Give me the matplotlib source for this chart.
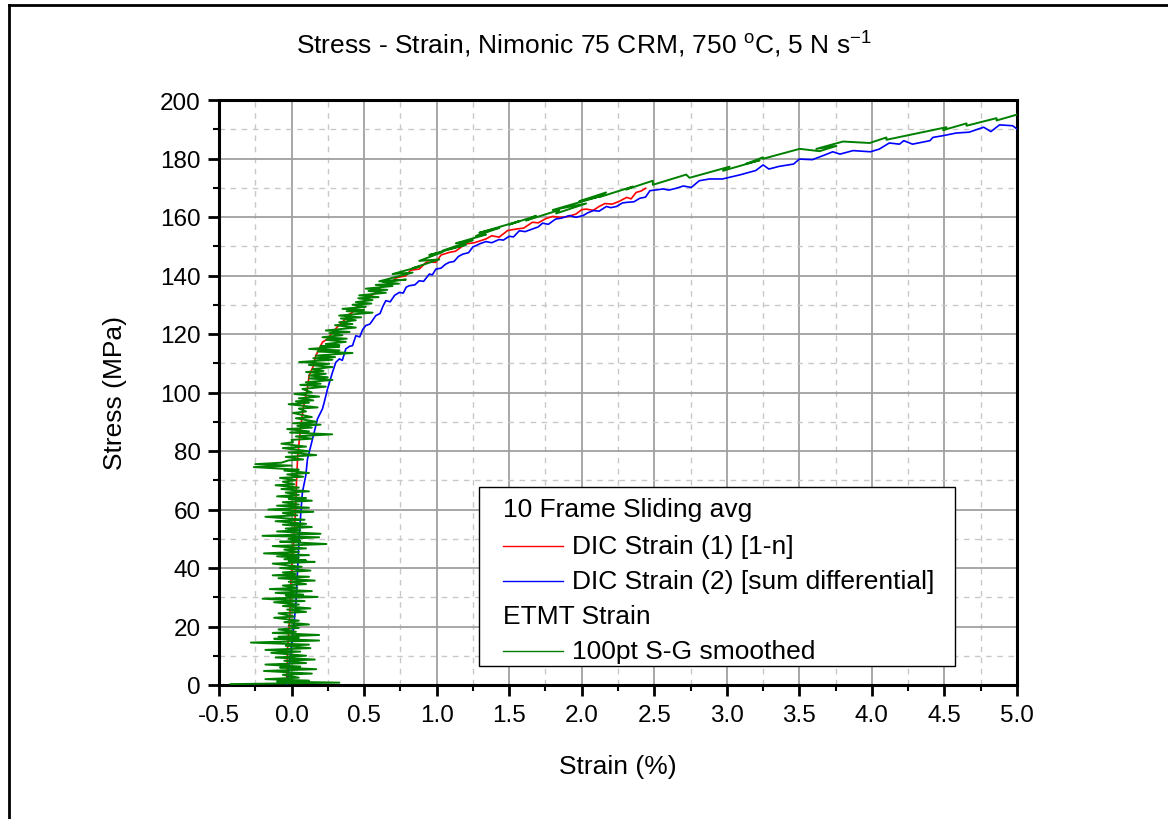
import numpy as np
import matplotlib
matplotlib.use('Agg')
import matplotlib.pyplot as plt
from matplotlib.ticker import MultipleLocator, FormatStrFormatter
from matplotlib.lines import Line2D
from matplotlib.patches import Rectangle

plt.rcParams['font.family'] = ['Liberation Sans', 'DejaVu Sans']
plt.rcParams['mathtext.fontset'] = 'custom'
plt.rcParams['mathtext.rm'] = 'Liberation Sans'
plt.rcParams['mathtext.it'] = 'Liberation Sans:italic'

''' Data read off the chart (strain %, stress MPa) '''
dic1_points = [(-0.035, 0.9), (-0.03, 6), (-0.028, 12.3), (-0.02, 18), (-0.012, 23.7),
               (-0.008, 29), (-0.005, 35.1), (0.004, 41), (0.011, 46.5), (0.018, 52),
               (0.025, 57.9), (0.03, 63), (0.034, 69.3), (0.038, 73), (0.041, 77.3),
               (0.052, 83.0), (0.064, 88.7), (0.08, 94.4), (0.098, 98.9), (0.11, 101.5),
               (0.121, 105.8), (0.15, 109), (0.167, 112.6), (0.213, 117.2), (0.25, 118.4),
               (0.282, 120.6), (0.33, 123.2), (0.351, 124), (0.39, 126.5), (0.42, 127.4),
               (0.46, 130), (0.489, 130.8), (0.53, 132.5), (0.581, 134.2), (0.62, 136.3),
               (0.673, 137.1), (0.72, 139.2), (0.788, 139.9), (0.82, 141.8), (0.88, 142.2),
               (0.93, 144.6), (0.995, 144.5), (1.03, 147), (1.087, 147.9), (1.13, 148.3),
               (1.20, 150.8), (1.26, 151.2), (1.34, 152.5), (1.38, 153.6), (1.43, 153.1),
               (1.49, 155.4), (1.55, 155.9), (1.60, 156.2), (1.66, 158.2), (1.70, 158.0),
               (1.755, 159.5), (1.80, 160.2), (1.85, 159.9), (1.90, 160.1), (1.96, 161),
               (2.00, 162.5), (2.03, 162.7), (2.08, 162.3), (2.12, 163.6), (2.16, 164.6),
               (2.21, 164.4), (2.26, 165.4), (2.31, 166.7), (2.34, 166.2), (2.375, 168.4),
               (2.41, 168.9), (2.44, 169.8)]

dic2_points = [(-0.028, 0.35), (-0.017, 6.6), (0.006, 15.7), (0.029, 27.1), (0.041, 38.5),
               (0.052, 49.9), (0.064, 59.0), (0.075, 65.9), (0.098, 71.6), (0.11, 77.3),
               (0.133, 81.8), (0.156, 86.4), (0.179, 91.0), (0.213, 94.4), (0.225, 96.6),
               (0.248, 101.2), (0.282, 106.9), (0.305, 110.3), (0.33, 111.5), (0.35, 111.0),
               (0.374, 114.9), (0.40, 115.8), (0.42, 116.0), (0.443, 119.4), (0.47, 119.0),
               (0.49, 121.5), (0.512, 122.9), (0.54, 123.4), (0.56, 124.8), (0.581, 126.3),
               (0.61, 127.0), (0.63, 129.5), (0.65, 131.4), (0.68, 131.0), (0.71, 133.2),
               (0.742, 134.2), (0.77, 134.0), (0.79, 136.0), (0.81, 136.5), (0.85, 136.8),
               (0.88, 138.2), (0.91, 138.0), (0.95, 140.5), (0.97, 140.2), (0.995, 142.2),
               (1.03, 142.5), (1.06, 143.8), (1.087, 144.5), (1.12, 144.8), (1.15, 146.5),
               (1.18, 147.3), (1.22, 147.8), (1.25, 149.8), (1.27, 150.2), (1.30, 150.9),
               (1.34, 151.6), (1.38, 151.2), (1.43, 152.3), (1.46, 152.1), (1.50, 153.4),
               (1.53, 153.2), (1.57, 155.3), (1.61, 155.0), (1.66, 155.9), (1.70, 156.6),
               (1.73, 157.9), (1.77, 157.5), (1.82, 159.3), (1.86, 159.6), (1.915, 160.5),
               (1.96, 159.9), (2.01, 160.5), (2.04, 161.4), (2.08, 162.2), (2.12, 162.0),
               (2.17, 163.6), (2.20, 163.2), (2.24, 163.6), (2.28, 164.8), (2.31, 165),
               (2.36, 165.2), (2.40, 166.4), (2.44, 166.8), (2.47, 169), (2.52, 169.3),
               (2.56, 169.6), (2.60, 169.2), (2.65, 169.8), (2.70, 170.6), (2.755, 170.1),
               (2.81, 172.4), (2.88, 173), (2.97, 173), (3.09, 174.4), (3.20, 175.9),
               (3.25, 177.8), (3.29, 176.4), (3.36, 177.3), (3.46, 178.1), (3.50, 179.8),
               (3.59, 179.6), (3.69, 181.5), (3.73, 182.3), (3.78, 181.5), (3.87, 182.7),
               (3.99, 182.3), (4.05, 183.2), (4.12, 185.3), (4.19, 184.9), (4.22, 186.1),
               (4.28, 184.9), (4.40, 186.1), (4.42, 187.2), (4.49, 187.8), (4.58, 188.7),
               (4.67, 189), (4.77, 190.7), (4.82, 189.2), (4.88, 191.5), (4.97, 191.2),
               (5.0, 190.1)]

# ETMT strain noise strokes: (left strain, left stress, right strain, right stress)
etmt_strokes = [(-0.42, 0.3, 0.33, 0.8), (-0.10, 1.2, 0.12, 1.5), (-0.18, 2, 0.05, 2.5),
                (-0.06, 3.5, 0.14, 3.9), (-0.19, 4.8, 0.17, 5.4), (-0.08, 6.0, 0.06, 6.3),
                (-0.18, 7, 0.10, 7.5), (-0.05, 8.3, 0.16, 8.7), (-0.11, 9.4, 0.10, 10),
                (-0.14, 11, 0.06, 11.4), (-0.18, 12, 0.13, 12.6), (-0.04, 13.4, 0.12, 13.8),
                (-0.28, 14.5, 0.19, 15.2), (-0.12, 15.8, 0.05, 16.1), (-0.09, 16.5, 0.19, 17.1),
                (-0.13, 17.8, 0.03, 18.2), (-0.09, 19, 0.05, 19.5), (-0.02, 20.3, 0.12, 20.7),
                (-0.05, 21.5, 0.05, 22), (-0.12, 23, 0.02, 23.4), (-0.09, 24.5, 0.10, 25),
                (-0.03, 25.8, 0.13, 26.2), (-0.06, 27, 0.05, 27.5), (-0.12, 28.3, 0.09, 28.7),
                (-0.20, 29.5, 0.18, 30.1), (-0.04, 30.6, 0.08, 30.9), (-0.11, 31.5, 0.14, 32.1),
                (-0.15, 32.8, 0.04, 33.2), (-0.06, 34, 0.10, 34.5), (-0.02, 35.3, 0.16, 35.7),
                (-0.09, 36.5, 0.12, 37), (-0.13, 37.5, 0.03, 37.9), (-0.06, 38.5, 0.13, 39.1),
                (-0.08, 40, 0.07, 40.4), (-0.13, 41.5, 0.16, 42.1), (-0.02, 42.3, 0.10, 42.6),
                (-0.05, 43, 0.05, 43.5), (-0.10, 44, 0.12, 44.4), (-0.19, 45, 0.05, 45.5),
                (-0.05, 46.3, 0.10, 46.7), (-0.13, 47.5, 0.24, 48.2), (-0.08, 49, 0.06, 49.3),
                (-0.02, 50, 0.19, 50.5), (-0.20, 51, 0.20, 51.7), (-0.10, 52.5, 0.06, 52.9),
                (-0.04, 53.5, 0.14, 54), (-0.06, 54.8, 0.10, 55.1), (-0.11, 56, 0.09, 56.5),
                (-0.18, 57.5, 0.04, 58), (-0.06, 58.8, 0.15, 59.2), (-0.16, 60, 0.12, 60.6),
                (-0.10, 61.3, 0.05, 61.7), (-0.06, 62.5, 0.14, 63), (-0.02, 63.6, 0.10, 63.9),
                (-0.10, 64.5, 0.05, 65), (-0.04, 65.8, 0.12, 66.2), (-0.07, 67, 0.05, 67.5),
                (-0.11, 68.3, 0.02, 68.6), (-0.06, 69.5, 0.03, 70), (-0.08, 70.8, 0.08, 71.2),
                (-0.03, 72, 0.12, 72.5), (-0.05, 73.3, 0.05, 73.6), (-0.26, 74.5, 0.0, 75),
                (-0.25, 75.5, -0.07, 76), (-0.02, 76.8, 0.08, 77.1), (-0.04, 78, 0.17, 78.6),
                (-0.02, 79.5, 0.12, 79.9), (-0.06, 81, 0.10, 81.5), (-0.07, 82.5, 0.01, 83),
                (0.0, 83.8, 0.14, 84.2), (0.03, 85, 0.28, 85.7), (-0.01, 86.3, 0.12, 86.7),
                (-0.03, 87.5, 0.14, 88), (0.04, 88.6, 0.20, 89), (0.01, 89.5, 0.17, 90),
                (0.03, 91.2, 0.14, 91.6), (0.01, 93, 0.10, 93.5), (0.05, 94.5, 0.18, 94.9),
                (-0.02, 96, 0.12, 96.5), (0.03, 97, 0.15, 97.3), (0.05, 98, 0.19, 98.6),
                (0.02, 99.5, 0.14, 100), (0.075, 101.2, 0.236, 102), (0.06, 102.6, 0.20, 103),
                (0.098, 103.5, 0.282, 104.3), (0.12, 104.8, 0.25, 105.2),
                (0.121, 105.8, 0.236, 106.4), (0.10, 107, 0.22, 107.4),
                (0.144, 108, 0.282, 108.7), (0.12, 109.4, 0.26, 109.8),
                (0.052, 110.4, 0.282, 111.2), (0.15, 111.7, 0.30, 112.1),
                (0.167, 112.6, 0.42, 113.5), (0.18, 114, 0.33, 114.4),
                (0.121, 114.9, 0.328, 115.6), (0.20, 115.8, 0.33, 116.2),
                (0.236, 116.6, 0.374, 117.3), (0.24, 118, 0.38, 118.4),
                (0.213, 118.9, 0.351, 119.6), (0.26, 120.3, 0.40, 120.7),
                (0.236, 121.2, 0.443, 122.2), (0.30, 123, 0.42, 123.4),
                (0.328, 124, 0.443, 124.7), (0.34, 125.3, 0.48, 125.7),
                (0.328, 126.3, 0.558, 127.3), (0.38, 127.8, 0.50, 128.2),
                (0.351, 128.6, 0.512, 129.3), (0.42, 130, 0.55, 130.4),
                (0.443, 130.9, 0.558, 131.6), (0.46, 132.2, 0.60, 132.6),
                (0.466, 133.2, 0.65, 134.1), (0.53, 134.7, 0.66, 135.1),
                (0.512, 135.5, 0.696, 136.4), (0.58, 136.8, 0.74, 137.2),
                (0.627, 137.8, 0.788, 138.6),
                (0.604, 138, 0.834, 141), (0.696, 140.5, 0.88, 143), (0.834, 142.5, 1.018, 145.5),
                (0.88, 145, 1.041, 148), (0.949, 147, 1.202, 150.5), (1.041, 148.5, 1.248, 152),
                (1.133, 151, 1.34, 154), (1.271, 153.5, 1.432, 156.3), (1.294, 154.6, 1.57, 158.6),
                (1.501, 157.4, 1.685, 160.4), (1.616, 158.8, 1.846, 162.4),
                (1.823, 161.2, 2.03, 164.6), (1.80, 162.4, 2.122, 167), (1.984, 165.4, 2.168, 168.4),
                (2.122, 166.8, 2.352, 170.4), (2.306, 169.4, 2.49, 172.4), (2.49, 171, 2.72, 174.5),
                (2.743, 173.4, 3.019, 177.2), (2.973, 175.8, 3.226, 179.4),
                (3.134, 178.2, 3.249, 180.4), (3.249, 179.9, 3.502, 183.3),
                (3.64, 182.5, 3.755, 184.3), (3.617, 183.3, 3.801, 185.8),
                (3.985, 185.3, 4.10, 187.2), (4.10, 186.4, 4.514, 190.7),
                (4.491, 189.7, 4.652, 192), (4.652, 191.2, 4.859, 193.8), (4.859, 193.0, 5.0, 195)]

legend_rows = ['10 Frame Sliding avg', 'DIC Strain (1) [1-n]',
               'DIC Strain (2) [sum differential]', 'ETMT Strain', '100pt S-G smoothed']
legend_colors = [None, 'red', 'blue', None, 'green']

''' Build series '''
dic1 = np.array(dic1_points)
dic2 = np.array(dic2_points)
etmt_x = []
etmt_y = []
for l, sl, r, sr in etmt_strokes:
    etmt_x += [l, r]
    etmt_y += [sl, sr]

''' Plot '''
fig = plt.figure(figsize=(11.68, 8.2), dpi=100)
ax = fig.add_axes([219/1168, 1-686/820, 798/1168, 585/820])

ax.plot(dic1[:, 0], dic1[:, 1], color='red', lw=1.2, zorder=3)
ax.plot(dic2[:, 0], dic2[:, 1], color='blue', lw=1.2, zorder=3)
ax.plot(etmt_x, etmt_y, color='green', lw=1.4, zorder=4)

ax.set_xlim(-0.5, 5.0)
ax.set_ylim(0, 200)
ax.xaxis.set_major_locator(MultipleLocator(0.5))
ax.xaxis.set_minor_locator(MultipleLocator(0.25))
ax.xaxis.set_major_formatter(FormatStrFormatter('%.1f'))
ax.yaxis.set_major_locator(MultipleLocator(20))
ax.yaxis.set_minor_locator(MultipleLocator(10))

ax.grid(which='major', color='#a0a0a0', lw=1.3, ls='-', zorder=0)
ax.grid(which='minor', color='#c8c8c8', lw=1.0, ls=(0, (4, 4)), zorder=0)
ax.set_axisbelow(True)

for sp in ax.spines.values():
    sp.set_linewidth(2.2)
ax.tick_params(which='major', direction='out', length=8, width=2, labelsize=17.5, pad=5,
               top=False, right=False)
ax.tick_params(which='minor', direction='out', length=4.5, width=1.5, top=False, right=False)
ax.tick_params(axis='x', which='major', pad=6)

ax.set_xlabel('Strain (%)', fontsize=19, labelpad=20)
ax.set_ylabel('Stress (MPa)', fontsize=19, labelpad=24)

fig.text(0.5, 1-45/820, r'Stress - Strain, Nimonic 75 CRM, 750 $^{\mathrm{o}}$C, 5 N s$^{\mathrm{-1}}$',
         ha='center', va='center', fontsize=19)

''' Legend box '''
ax.add_patch(Rectangle((0.326, 0.0325), 0.596, 0.3055, transform=ax.transAxes,
                       facecolor='white', edgecolor='black', lw=1.0, zorder=6))
row_y = [0.301, 0.238, 0.178, 0.118, 0.058]
for label, c, yy in zip(legend_rows, legend_colors, row_y):
    if c is None:
        ax.text(0.356, yy, label, transform=ax.transAxes, fontsize=19, va='center', zorder=7)
    else:
        ax.add_line(Line2D([0.356, 0.431], [yy, yy], transform=ax.transAxes, color=c, lw=1.0, zorder=7))
        ax.text(0.442, yy, label, transform=ax.transAxes, fontsize=19, va='center', zorder=7)

''' Outer frame '''
fig.add_artist(Line2D([8.5/1168, 8.5/1168], [0, 1-5.5/820], transform=fig.transFigure, color='black', lw=2))
fig.add_artist(Line2D([8.5/1168, 1], [1-5.5/820, 1-5.5/820], transform=fig.transFigure, color='black', lw=2))

fig.savefig('out.png', dpi=100)
